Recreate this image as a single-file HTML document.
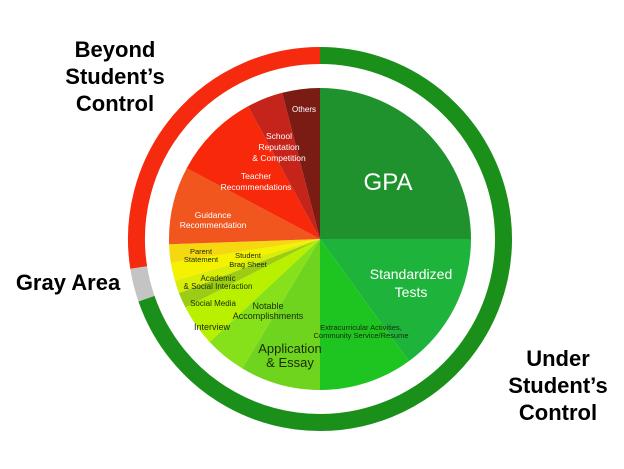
<!DOCTYPE html>
<html><head><meta charset="utf-8"><style>
html,body{margin:0;padding:0;background:#fff;}
svg{display:block;}
text{font-family:"Liberation Sans",Arial,sans-serif;text-anchor:middle;}
.b{font-weight:bold;font-size:22px;fill:#000;}
.w{fill:#fff;}
.d{fill:#1a2a05;}
</style></head><body>
<svg width="624" height="469" viewBox="0 0 624 469" xmlns="http://www.w3.org/2000/svg">
<rect width="624" height="469" fill="#fff"/>
<path d="M320 55.5 A183.5 183.5 0 0 0 138.7 267.6" fill="none" stroke="#f52a0e" stroke-width="17"/>
<path d="M138.7 267.6 A183.5 183.5 0 0 0 146.5 298.7" fill="none" stroke="#c4c4c4" stroke-width="17"/>
<path d="M320 55.5 A183.5 183.5 0 1 1 146.5 298.7" fill="none" stroke="#1a8f1a" stroke-width="17"/>
<g stroke="none">
<path d="M320 239 L320 88 A151 151 0 0 1 471 239 Z" fill="#1f922e"/>
<path d="M320 239 L471 239 A151 151 0 0 1 408.8 361.2 Z" fill="#1eb43c"/>
<path d="M320 239 L408.8 361.2 A151 151 0 0 1 320 390 Z" fill="#1ec520"/>
<path d="M320 239 L320 390 A151 151 0 0 1 242.2 368.4 Z" fill="#6fd41e"/>
<path d="M320 239 L242.2 368.4 A151 151 0 0 1 209.6 342 Z" fill="#86e11a"/>
<path d="M320 239 L209.6 342 A151 151 0 0 1 185.5 307.5 Z" fill="#b8f000"/>
<path d="M320 239 L185.5 307.5 A151 151 0 0 1 178.9 293.1 Z" fill="#9ccc14"/>
<path d="M320 239 L178.9 293.1 A151 151 0 0 1 174.9 280.6 Z" fill="#d8ee08"/>
<path d="M320 239 L174.9 280.6 A151 151 0 0 1 170.8 262.6 Z" fill="#f4f200"/>
<path d="M320 239 L170.8 262.6 A151 151 0 0 1 169.1 244.3 Z" fill="#f5d810"/>
<path d="M320 239 L169.1 244.3 A151 151 0 0 1 186.7 168.2 Z" fill="#f0561e"/>
<path d="M320 239 L186.7 168.2 A151 151 0 0 1 248 106.3 Z" fill="#f8280a"/>
<path d="M320 239 L248 106.3 A151 151 0 0 1 282.2 92.8 Z" fill="#c4241a"/>
<path d="M320 239 L282.2 92.8 A151 151 0 0 1 320 88 Z" fill="#7a1c14"/>
</g>
<text x="388" y="190" class="w" font-size="24">GPA</text>
<text x="411" y="279" class="w" font-size="14">Standardized</text>
<text x="411" y="297" class="w" font-size="14">Tests</text>
<text x="361" y="330" class="d" font-size="7.5">Extracurricular Activities,</text>
<text x="361" y="338" class="d" font-size="7.5">Community Service/Resume</text>
<text x="290" y="353" class="d" font-size="13">Application</text>
<text x="290" y="367" class="d" font-size="13">&amp; Essay</text>
<text x="268" y="309" class="d" font-size="9">Notable</text>
<text x="268" y="319" class="d" font-size="9">Accomplishments</text>
<text x="212" y="330" class="d" font-size="9">Interview</text>
<text x="213" y="306" class="d" font-size="8">Social Media</text>
<text x="218" y="281" class="d" font-size="8">Academic</text>
<text x="218" y="289" class="d" font-size="8">&amp; Social Interaction</text>
<text x="201" y="254" class="d" font-size="7.5">Parent</text>
<text x="201" y="262" class="d" font-size="7.5">Statement</text>
<text x="248" y="258" class="d" font-size="7.5">Student</text>
<text x="248" y="267" class="d" font-size="7.5">Brag Sheet</text>
<text x="213" y="218" class="w" font-size="8.5">Guidance</text>
<text x="213" y="228" class="w" font-size="8.5">Recommendation</text>
<text x="256" y="179" class="w" font-size="8.5">Teacher</text>
<text x="256" y="190" class="w" font-size="8.5">Recommendations</text>
<text x="279" y="139" class="w" font-size="8.5">School</text>
<text x="279" y="150" class="w" font-size="8.5">Reputation</text>
<text x="279" y="161" class="w" font-size="8.5">&amp; Competition</text>
<text x="304" y="112" class="w" font-size="8">Others</text>
<text x="115" y="57" class="b">Beyond</text>
<text x="115" y="84" class="b">Student’s</text>
<text x="115" y="111" class="b">Control</text>
<text x="68" y="290" class="b">Gray Area</text>
<text x="558" y="366" class="b">Under</text>
<text x="558" y="393" class="b">Student’s</text>
<text x="558" y="420" class="b">Control</text>
</svg>
</body></html>
